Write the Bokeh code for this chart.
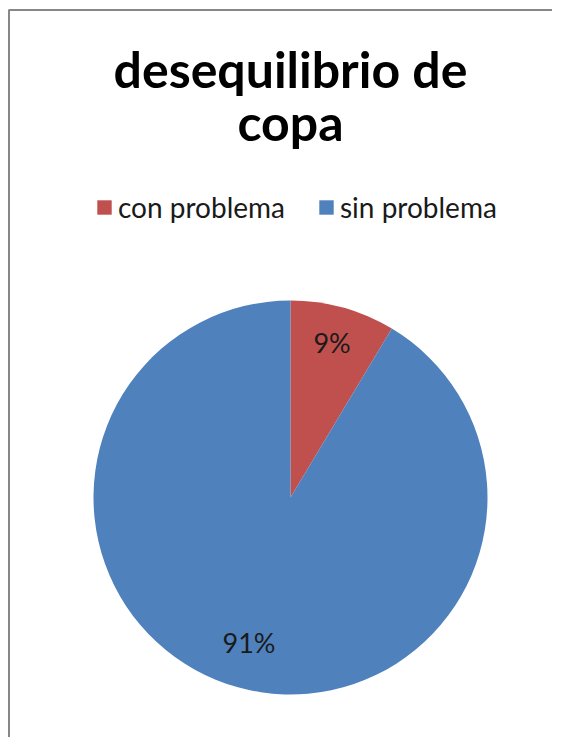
import math
from bokeh.plotting import figure
from bokeh.models import ColumnDataSource, Range1d, Legend, LegendItem
from bokeh.core.properties import value
from bokeh.embed import file_html
from bokeh.resources import INLINE

# ---- data ----
title_lines = ["desequilibrio de", "copa"]
categories = ["con problema", "sin problema"]
shares = [8.6, 91.4]
labels = ["9%", "91%"]
colors = ["#C0504D", "#4F81BD"]

# ---- layout ----
W, H = 552, 737
FONT = "Lato"
cx, cy, R = 290, 240, 197

p = figure(width=W, height=H, output_backend="svg", toolbar_location=None,
           x_range=Range1d(0, W), y_range=Range1d(0, H), min_border=0)
p.axis.visible = False
p.grid.visible = False
p.outline_line_color = None
p.background_fill_color = "white"
p.border_fill_color = "white"

# chart frame (only left and top edges fall inside the visible area)
p.line(x=[8.5, 8.5, W + 5], y=[-5, H - 9.5, H - 9.5], line_color="#878787", line_width=2)

total = sum(shares)
starts, ends, mids = [], [], []
acc = 0.0
for s in shares:
    a0 = math.pi / 2 - 2 * math.pi * acc / total
    acc += s
    a1 = math.pi / 2 - 2 * math.pi * acc / total
    starts.append(a0)
    ends.append(a1)
    mids.append((a0 + a1) / 2)

src = ColumnDataSource(dict(cat=categories, start=starts, end=ends, color=colors,
                            x=[cx] * len(shares), y=[cy] * len(shares)))
wr = p.wedge(x="x", y="y", radius=R, start_angle="start", end_angle="end",
             direction="clock", fill_color="color", line_color=None, source=src)

frac = 0.79
lab_src = ColumnDataSource(dict(
    x=[cx + frac * R * math.cos(m) for m in mids],
    y=[cy + frac * R * math.sin(m) for m in mids],
    t=labels))
p.text(x="x", y="y", text="t", source=lab_src, text_align="center",
       text_baseline="middle", text_font=value(FONT), text_font_size="27px",
       text_color="#1a1a1a", y_offset=-5)

# title
tsrc = ColumnDataSource(dict(x=[cx, cx], y=[H - 68, H - 121], t=title_lines))
p.text(x="x", y="y", text="t", source=tsrc, text_align="center",
       text_baseline="middle", text_font=value(FONT), text_font_size="50px",
       text_font_style="bold", text_color="black")

legend = Legend(items=[LegendItem(label=c, renderers=[wr], index=i) for i, c in enumerate(categories)],
                orientation="horizontal", location=(95, 513), padding=0, margin=0,
                spacing=32, label_standoff=5, glyph_width=18, glyph_height=18,
                border_line_color=None, background_fill_alpha=0,
                label_text_font=FONT, label_text_font_size="28px", label_text_color="#1a1a1a")
p.add_layout(legend, "center")

open("out.html", "w").write(file_html(p, INLINE))
